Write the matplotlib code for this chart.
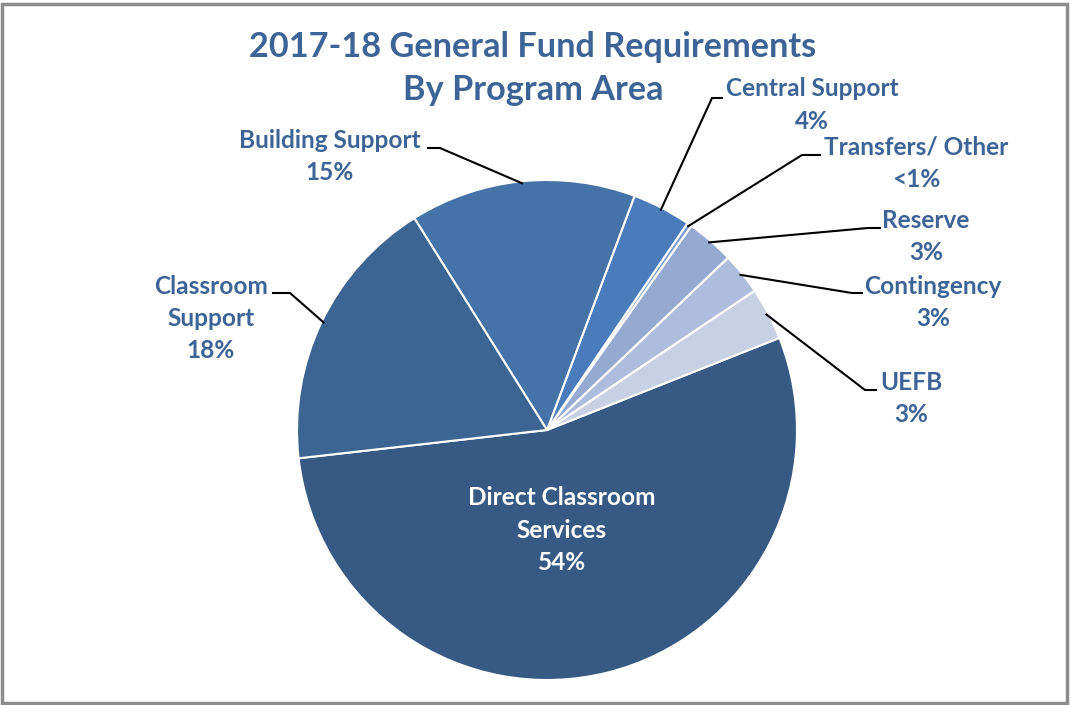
import numpy as np
import matplotlib
matplotlib.use("Agg")
import matplotlib.pyplot as plt
from matplotlib.patches import Rectangle

# data (counterclockwise from Direct Classroom Services)
programs = ["Direct Classroom\nServices", "UEFB", "Contingency", "Reserve",
            "Transfers/ Other", "Central Support", "Building Support",
            "Classroom\nSupport"]
shares = [54.2, 3.4, 2.7, 3.1, 0.3, 3.8, 14.6, 17.9]
pct_labels = ["54%", "3%", "3%", "3%", "<1%", "4%", "15%", "18%"]
colors = ["#375a84", "#c8d0e3", "#adbddb", "#95a9d1", "#7c9ccc",
          "#4a7bbb", "#4573a8", "#3d6594"]
title_lines = ["2017-18 General Fund Requirements", "By Program Area"]

txt_color = "#3c6496"
plt.rcParams['font.family'] = ['Lato', 'DejaVu Sans']

W, H = 1070, 705
fig = plt.figure(figsize=(W / 100, H / 100), dpi=100)
ax = fig.add_axes([0, 0, 1, 1])

# outer frame
fig.patches.append(Rectangle((2 / W, 2 / H), (W - 5) / W, (H - 6) / H,
                             transform=fig.transFigure, fill=False,
                             edgecolor="#8c8c8c", linewidth=2.5))

cx, cy, r = 547, H - 430, 250
wedges, _ = ax.pie(shares, colors=colors, startangle=186.5, counterclock=True,
                   center=(cx, cy), radius=r, frame=True,
                   wedgeprops=dict(edgecolor="white", linewidth=1.5))
ax.set_xlim(0, W)
ax.set_ylim(0, H)
ax.set_aspect("equal")
ax.axis("off")

# label layout: (label centre x, first line y in image px, elbow x, elbow y, end x)
layout = {
    0: None,
    1: (911, 382, 865, 390, 876),
    2: (933, 286, 852, 293, 862),
    3: (926, 220, 868, 228, 880),
    4: (916, 147, 802, 155, 820),
    5: (812, 89, 712, 98, 722),
    6: (330, 140, 440, 148, 428),
    7: (211, 286, 290, 293, 273),
}

fs = 17.6
line_h = 32.5
ls = 1.5
for i, w in enumerate(wedges):
    mid = np.deg2rad((w.theta1 + w.theta2) / 2)
    text = programs[i] + "\n" + pct_labels[i]
    if layout[i] is None:
        ax.text(562, H - 530, text, ha="center", va="center", color="white",
                fontsize=fs, fontweight="bold", linespacing=ls)
        continue
    lx, ly, ex, ey, endx = layout[i]
    sx = cx + (r - 2) * np.cos(mid)
    sy = cy + (r - 2) * np.sin(mid)
    ax.plot([sx, ex, endx], [sy, H - ey, H - ey], color="black", lw=1.5,
            solid_joinstyle="miter")
    nlines = text.count("\n") + 1
    ax.text(lx, H - (ly + (nlines - 1) * line_h / 2), text, ha="center",
            va="center", color=txt_color, fontsize=fs, fontweight="bold",
            linespacing=ls)

for ty, line in zip([47, 90], title_lines):
    ax.text(533, H - ty, line, ha="center", va="center", color=txt_color,
            fontsize=24.7, fontweight="bold")

fig.savefig("out.png", dpi=100)
